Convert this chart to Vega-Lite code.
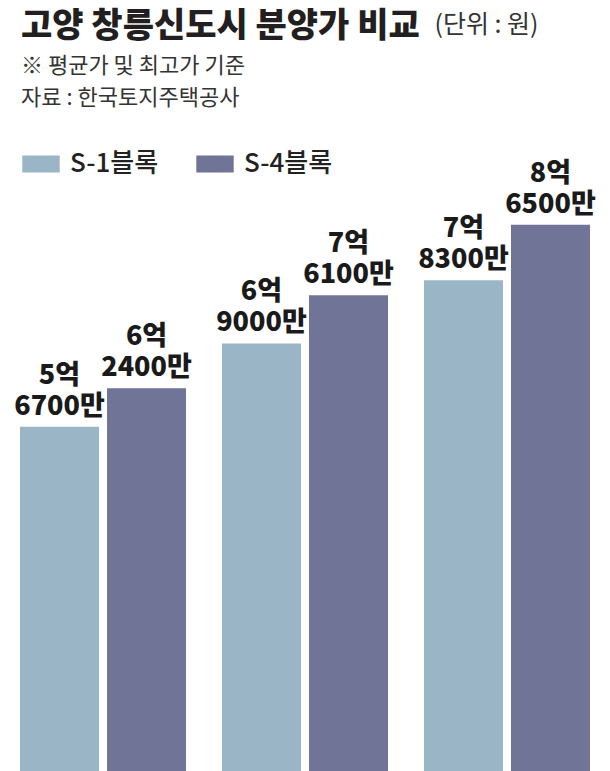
{
  "$schema": "https://vega.github.io/schema/vega-lite/v6.json",
  "autosize": {"type": "none"},
  "padding": {"top": 201, "left": 20, "right": 20, "bottom": 0},
  "width": 570,
  "height": 570,
  "background": "white",
  "config": {"view": {"stroke": null}, "font": "Noto Sans CJK KR"},
  "title": {
    "text": "고양 창릉신도시 분양가 비교",
    "subtitle": ["※ 평균가 및 최고가 기준", "자료 : 한국토지주택공사"],
    "anchor": "start",
    "frame": "group",
    "font": "Noto Sans CJK KR",
    "fontSize": 34,
    "fontWeight": 900,
    "color": "#231f20",
    "subtitleFont": "Noto Sans CJK KR",
    "subtitleFontSize": 22,
    "subtitleColor": "#333333",
    "subtitleLineHeight": 32,
    "subtitlePadding": 12,
    "offset": -97,
    "dx": 1
  },
  "data": {
    "values": [
      {"group": "1", "block": "S-1블록", "price": 5.67, "label": "5억\n6700만"},
      {"group": "1", "block": "S-4블록", "price": 6.24, "label": "6억\n2400만"},
      {"group": "2", "block": "S-1블록", "price": 6.90, "label": "6억\n9000만"},
      {"group": "2", "block": "S-4블록", "price": 7.61, "label": "7억\n6100만"},
      {"group": "3", "block": "S-1블록", "price": 7.83, "label": "7억\n8300만"},
      {"group": "3", "block": "S-4블록", "price": 8.65, "label": "8억\n6500만"}
    ]
  },
  "encoding": {
    "x": {
      "field": "group",
      "type": "nominal",
      "scale": {"paddingInner": 0.178, "paddingOuter": 0},
      "axis": null
    },
    "xOffset": {
      "field": "block",
      "type": "nominal",
      "scale": {"paddingInner": 0.092, "paddingOuter": 0}
    },
    "y": {
      "field": "price",
      "type": "quantitative",
      "scale": {"domain": [0.596, 9], "zero": false, "nice": false},
      "axis": {
        "title": "(단위 : 원)",
        "labels": false,
        "ticks": false,
        "domain": false,
        "grid": false,
        "titleAngle": 0,
        "titleAlign": "left",
        "titleBaseline": "alphabetic",
        "titleX": 414,
        "titleY": -169,
        "titleFont": "Noto Sans CJK KR",
        "titleFontSize": 25,
        "titleFontWeight": "normal",
        "titleColor": "#333333"
      }
    }
  },
  "layer": [
    {
      "mark": {"type": "bar", "clip": true},
      "encoding": {
        "color": {
          "field": "block",
          "type": "nominal",
          "scale": {"domain": ["S-1블록", "S-4블록"], "range": ["#9ab5c6", "#707496"]},
          "legend": {
            "orient": "none",
            "legendX": 2,
            "legendY": -56,
            "direction": "horizontal",
            "title": null,
            "symbolType": "M-1,-0.45H1V0.45H-1Z",
            "symbolSize": 1400,
            "symbolStrokeWidth": 0,
            "symbolOpacity": 1,
            "labelFont": "Noto Sans CJK KR",
            "labelFontSize": 26,
            "labelFontWeight": 500,
            "labelColor": "#222222",
            "labelOffset": 10,
            "labelLimit": 200,
            "columnPadding": 37
          }
        }
      }
    },
    {
      "mark": {
        "type": "text",
        "baseline": "bottom",
        "dy": -37,
        "lineBreak": "\n",
        "lineHeight": 31,
        "font": "Noto Sans CJK KR",
        "fontSize": 27,
        "fontWeight": 900,
        "color": "#1a1a1a"
      },
      "encoding": {"text": {"field": "label"}}
    }
  ]
}
